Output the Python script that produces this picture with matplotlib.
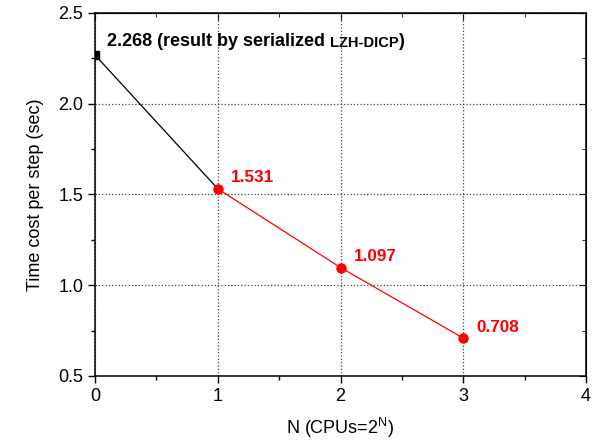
import numpy as np
import matplotlib
matplotlib.use("Agg")
import matplotlib.pyplot as plt

plt.rcParams['font.family'] = ['Liberation Sans', 'DejaVu Sans']
plt.rcParams['mathtext.default'] = 'regular'

# data
serial_n = [0, 1]
serial_t = [2.268, 1.531]
par_n = [1, 2, 3]
par_t = [1.531, 1.097, 0.708]
par_labels = ["1.531", "1.097", "0.708"]

fig = plt.figure(figsize=(5.98, 4.48), dpi=100)
ax = fig.add_axes([0.159, 0.161, 0.821, 0.810])

ax.plot(serial_n, serial_t, color='black', lw=0.9, zorder=3)
ax.plot(serial_n[:1], serial_t[:1], 's', color='black', ms=5.5, zorder=4)
ax.plot(par_n, par_t, '-o', color='red', lw=0.9, ms=6.5, zorder=4)

for x, y, lab in zip(par_n, par_t, par_labels):
    ax.annotate(lab, (x, y), xytext=(9.5, 8), textcoords='offset points',
                color='red', fontsize=12.3, fontweight='bold', ha='left', va='center')

t1 = ax.annotate("2.268 (result by serialized ", (serial_n[0], serial_t[0]),
                 xytext=(8.5, 9.5), textcoords='offset points',
                 fontsize=13, fontweight='bold', ha='left', va='center')
t2 = ax.annotate("LZH-DICP", xy=(1, 0), xycoords=t1, xytext=(0, 0),
                 textcoords='offset points', fontsize=10.5, fontweight='bold',
                 ha='left', va='bottom')
ax.annotate(")", xy=(1, 0), xycoords=t2, fontsize=13, fontweight='bold',
            ha='left', va='bottom')

ax.set_xlim(0, 4)
ax.set_ylim(0.5, 2.5)
ax.set_xticks([0, 1, 2, 3, 4])
ax.set_xticks(np.arange(0, 4.01, 0.5), minor=True)
ax.set_yticks([0.5, 1.0, 1.5, 2.0, 2.5])
ax.set_yticks(np.arange(0.5, 2.51, 0.25), minor=True)
ax.grid(True, which='major', linestyle=':', color='#444444', lw=0.9)

ax.tick_params(which='both', direction='out', top=False, right=False, labelsize=13, width=1)
ax.tick_params(which='major', length=5)
ax.tick_params(which='minor', length=3)
sec_x = ax.secondary_xaxis('top')
sec_x.set_xticks([0, 1, 2, 3, 4])
sec_x.set_xticks(np.arange(0, 4.01, 0.5), minor=True)
sec_x.tick_params(which='both', direction='in', labeltop=False)
sec_x.tick_params(which='major', length=5)
sec_x.tick_params(which='minor', length=3)
sec_y = ax.secondary_yaxis('right')
sec_y.set_yticks([0.5, 1.0, 1.5, 2.0, 2.5])
sec_y.set_yticks(np.arange(0.5, 2.51, 0.25), minor=True)
sec_y.tick_params(which='both', direction='in', labelright=False)
sec_y.tick_params(which='major', length=5)
sec_y.tick_params(which='minor', length=3)

for s in ax.spines.values():
    s.set_linewidth(1.1)

ax.set_xlabel("N (CPUs=2$^{N}$)", fontsize=13, labelpad=8)
ax.set_ylabel("Time cost per step (sec)", fontsize=13, labelpad=10)

fig.savefig("out.png", dpi=100)
